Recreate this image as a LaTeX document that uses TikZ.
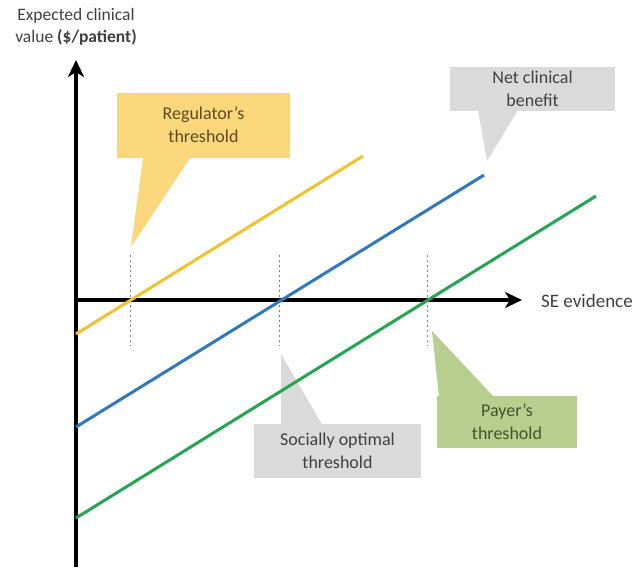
\documentclass[tikz,border=0pt]{standalone}
\usepackage{fontspec}
\setmainfont{Carlito}
\usetikzlibrary{arrows.meta}
\definecolor{ylw}{HTML}{F2C12E}
\definecolor{ylwfill}{HTML}{F9D77A}
\definecolor{blu}{HTML}{2F78BE}
\definecolor{grn}{HTML}{25A452}
\definecolor{grnfill}{HTML}{B7CE8E}
\definecolor{gryfill}{HTML}{DADADA}
\definecolor{txt}{HTML}{404040}
\definecolor{ytxt}{HTML}{5B4A24}
\definecolor{gtxt}{HTML}{45532C}
\tikzset{
  axis/.style={line width=3.5pt,-{Stealth[length=17pt,width=16pt,inset=5pt]}},
  curve/.style={line width=3pt},
  guide/.style={gray,line width=1pt,dash pattern=on 2pt off 3pt},
  callbox/.style={inner sep=0pt,align=center,font=\fontsize{18pt}{23pt}\selectfont,text=txt},
  lbl/.style={font=\fontsize{17.5pt}{22pt}\selectfont,text=txt,align=center,inner sep=0pt}
}
\begin{document}
\begin{tikzpicture}[x=1pt,y=-1pt]
\useasboundingbox (0,0) rectangle (634,573);
% axes
\coordinate (o) at (76,300);
\coordinate (ytop) at (76,60);
\coordinate (ybot) at (76,567);
\coordinate (xend) at (522,300);
% guides
\coordinate (g1t) at (130,255); \coordinate (g1b) at (130,346);
\coordinate (g2t) at (279,255); \coordinate (g2b) at (279,346);
\coordinate (g3t) at (427,255); \coordinate (g3b) at (427,346);
\draw[guide] (g1t) -- (g1b);
\draw[guide] (g2t) -- (g2b);
\draw[guide] (g3t) -- (g3b);
% callouts
% regulator
\coordinate (rtip) at (131,247);
\coordinate (rb1) at (143,158); \coordinate (rb2) at (190,158);
\fill[ylwfill] (rb1) -- (rtip) -- (rb2) -- cycle;
\node[callbox,fill=ylwfill,minimum width=173pt,minimum height=65pt,text=ytxt] (reg) at (203.5,125) {Regulator's\\threshold};
% net clinical benefit
\coordinate (ntip) at (487,161);
\coordinate (nb1) at (478,110); \coordinate (nb2) at (518,110);
\fill[gryfill] (nb1) -- (ntip) -- (nb2) -- cycle;
\node[callbox,fill=gryfill,minimum width=165pt,minimum height=44pt] (ncb) at (532.5,88.5) {Net clinical\\benefit};
% socially optimal
\coordinate (stip) at (281,354);
\coordinate (sb1) at (281,426); \coordinate (sb2) at (323,426);
\fill[gryfill] (sb1) -- (stip) -- (sb2) -- cycle;
\node[callbox,fill=gryfill,minimum width=167pt,minimum height=54pt] (soc) at (337.5,451) {Socially optimal\\threshold};
% payer
\coordinate (ptip) at (432,331);
\coordinate (pb1) at (439,397); \coordinate (pb2) at (494,397);
\fill[grnfill] (pb1) -- (ptip) -- (pb2) -- cycle;
\node[callbox,fill=grnfill,minimum width=140pt,minimum height=52pt,text=gtxt] (pay) at (507,422) {Payer's\\threshold};
% value lines
\coordinate (y0) at (76,334); \coordinate (y1) at (363,156);
\coordinate (b0) at (76,427); \coordinate (b1) at (484,175);
\coordinate (n0) at (76,518); \coordinate (n1) at (596,196);
\draw[axis] (ybot) -- (ytop);
\draw[axis] (o) -- (xend);
\draw[curve,ylw] (y0) -- (y1);
\draw[curve,blu] (b0) -- (b1);
\draw[curve,grn] (n0) -- (n1);
% axis labels
\node[lbl] (ylab) at (76,27) {Expected clinical\\value \textbf{(\$/patient)}};
\node[lbl,anchor=west,font=\fontsize{19pt}{22pt}\selectfont] (xlab) at (541,301) {SE evidence};
\end{tikzpicture}
\end{document}
